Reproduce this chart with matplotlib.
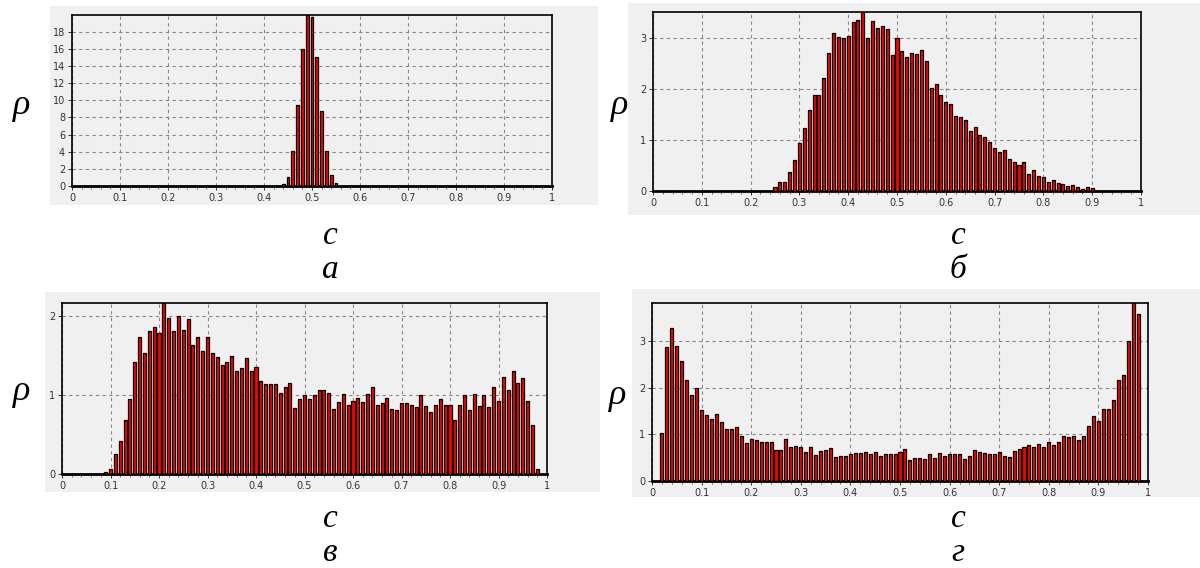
import numpy as np
import matplotlib.pyplot as plt
from matplotlib.patches import Rectangle
from matplotlib.ticker import MultipleLocator

# гистограммы плотности rho(c), шаг 0.01
a_c = [0.44, 0.45, 0.46, 0.47, 0.48, 0.49, 0.50, 0.51, 0.52, 0.53, 0.54, 0.55]
a_rho = [0.2, 1.0, 4.1, 9.5, 16.0, 19.95, 19.7, 15.0, 8.7, 4.1, 1.3, 0.3]

b_c = [round(0.25 + 0.01 * i, 2) for i in range(66)]
b_rho = [0.07, 0.18, 0.18, 0.38, 0.61, 0.93, 1.23, 1.58, 1.88, 1.88,
         2.2, 2.7, 3.09, 3.02, 2.99, 3.04, 3.3, 3.35, 3.5, 3.0,
         3.32, 3.18, 3.22, 3.16, 2.65, 3.0, 2.74, 2.62, 2.7, 2.67,
         2.76, 2.54, 2.01, 2.09, 1.87, 1.74, 1.7, 1.47, 1.45, 1.38,
         1.17, 1.25, 1.1, 1.06, 0.95, 0.84, 0.76, 0.8, 0.63, 0.57,
         0.5, 0.57, 0.33, 0.42, 0.29, 0.27, 0.18, 0.22, 0.15, 0.13,
         0.09, 0.11, 0.07, 0.04, 0.07, 0.05]

v_c = [round(0.09 + 0.01 * i, 2) for i in range(90)]
v_rho = [0.02, 0.06, 0.25, 0.42, 0.68, 0.95, 1.42, 1.74, 1.53, 1.81,
         1.86, 1.79, 2.17, 1.98, 1.82, 2.0, 1.83, 1.97, 1.64, 1.74,
         1.56, 1.74, 1.54, 1.49, 1.38, 1.42, 1.5, 1.31, 1.34, 1.47,
         1.31, 1.36, 1.18, 1.14, 1.14, 1.14, 1.03, 1.11, 1.16, 0.84,
         0.95, 1.0, 0.95, 1.0, 1.06, 1.06, 1.03, 0.83, 0.92, 1.01,
         0.87, 0.93, 0.97, 0.91, 1.01, 1.1, 0.87, 0.9, 0.97, 0.83,
         0.81, 0.9, 0.9, 0.88, 0.85, 1.0, 0.86, 0.79, 0.87, 0.95,
         0.87, 0.87, 0.69, 0.87, 1.0, 0.81, 1.02, 0.86, 1.0, 0.85,
         1.1, 0.93, 1.23, 1.06, 1.31, 1.15, 1.22, 0.93, 0.62, 0.06]

g_c = [round(0.02 + 0.01 * i, 2) for i in range(97)]
g_rho = [1.03, 2.88, 3.28, 2.9, 2.58, 2.17, 1.85, 2.0, 1.52, 1.41,
         1.32, 1.44, 1.26, 1.11, 1.11, 1.15, 0.97, 0.82, 0.91, 0.87,
         0.84, 0.84, 0.84, 0.67, 0.67, 0.91, 0.72, 0.76, 0.74, 0.62,
         0.72, 0.56, 0.64, 0.67, 0.7, 0.51, 0.54, 0.54, 0.59, 0.6,
         0.6, 0.62, 0.57, 0.62, 0.53, 0.57, 0.59, 0.57, 0.62, 0.69,
         0.44, 0.49, 0.49, 0.47, 0.57, 0.49, 0.6, 0.54, 0.57, 0.59,
         0.57, 0.47, 0.54, 0.67, 0.62, 0.6, 0.59, 0.57, 0.62, 0.54,
         0.52, 0.64, 0.68, 0.72, 0.77, 0.72, 0.8, 0.72, 0.84, 0.78,
         0.84, 0.97, 0.95, 0.97, 0.87, 0.97, 1.17, 1.4, 1.28, 1.54,
         1.54, 1.73, 2.17, 2.28, 3.0, 3.82, 3.58]

W, H = 1200, 568
BG = '#f0f0f0'
serif = ['Liberation Serif', 'DejaVu Serif']

fig = plt.figure(figsize=(12, 5.68), dpi=100)


def box(x0, y0, x1, y1):
    # пиксели (сверху вниз) -> доли фигуры
    return [x0 / W, 1 - y1 / H, (x1 - x0) / W, (y1 - y0) / H]


def panel(bg, ax_px, c, rho, ymax, ystep, rho_xy, c_xy, letter):
    b = box(*bg)
    fig.patches.append(Rectangle((b[0], b[1]), b[2], b[3], transform=fig.transFigure,
                                 facecolor=BG, edgecolor='none', zorder=-5))
    ax = fig.add_axes(box(*ax_px))
    ax.set_facecolor(BG)
    c = np.array(c)
    ax.bar(c + 0.0009, rho, width=0.0072, color='#8c8c8c', edgecolor='none', zorder=2)
    ax.bar(c, rho, width=0.0062, color='#ff0000', edgecolor='black', linewidth=0.9, zorder=3)
    ax.set_xlim(0, 1)
    ax.set_ylim(0, ymax)
    ax.xaxis.set_minor_locator(MultipleLocator(0.02))
    ax.yaxis.set_major_locator(MultipleLocator(ystep))
    ax.set_xticks(np.arange(0, 1.01, 0.1))
    ax.set_xticklabels(['0'] + ['%.1f' % v for v in np.arange(0.1, 0.95, 0.1)] + ['1'])
    ax.grid(True, which='major', linestyle=(0, (3, 3)), color='#888888', linewidth=0.8)
    ax.set_axisbelow(True)
    ax.tick_params(labelsize=7, colors='#333333', length=3, width=0.7, pad=2)
    ax.tick_params(which='minor', length=2, width=0.6, colors='#555555')
    for s in ax.spines.values():
        s.set_color('black')
        s.set_linewidth(1.2)
    ax.spines['bottom'].set_linewidth(2)
    fig.text(rho_xy[0] / W, 1 - rho_xy[1] / H, 'ρ', family=serif, style='italic',
             fontsize=26, ha='center', va='center')
    fig.text(c_xy[0] / W, 1 - c_xy[1] / H, 'c', family=serif, style='italic',
             fontsize=24, ha='center', va='center')
    fig.text(c_xy[0] / W, 1 - (c_xy[1] + 34) / H, letter, family=serif, style='italic',
             fontsize=24, ha='center', va='center')


panel((50, 6, 598, 205), (72, 15, 552, 186), a_c, a_rho, 19.95, 2, (22, 106), (330, 236), 'а')
panel((628, 3, 1200, 215), (653, 12, 1141, 191), b_c, b_rho, 3.5, 1, (620, 106), (958, 236), 'б')
panel((45, 292, 600, 492), (62, 303, 547, 474), v_c, v_rho, 2.17, 1, (22, 391), (330, 519), 'в')
panel((632, 289, 1200, 497), (652, 303, 1148, 481), g_c, g_rho, 3.82, 1, (618, 396), (958, 519), 'г')

plt.savefig('out.png', dpi=100, facecolor='white')
plt.close()
